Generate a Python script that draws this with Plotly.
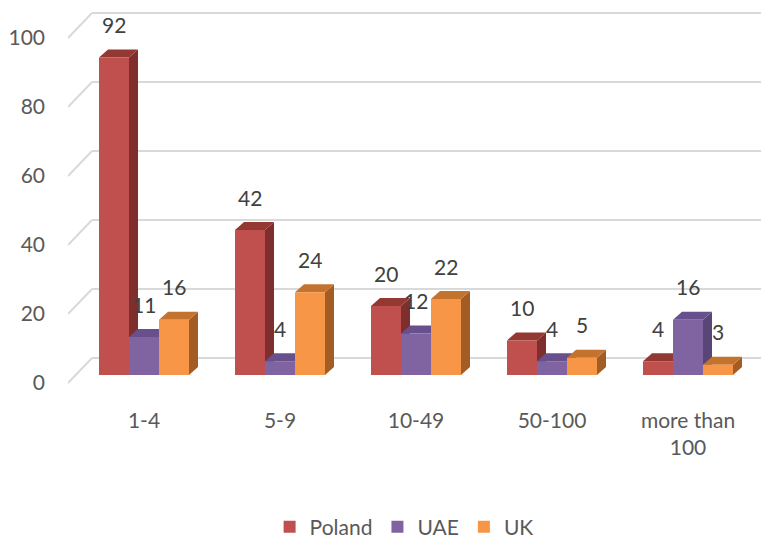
import plotly.graph_objects as go

categories = ["1-4", "5-9", "10-49", "50-100", "more than<br>100"]
series_names = ["Poland", "UAE", "UK"]
poland = [92, 42, 20, 10, 4]
uae = [11, 4, 12, 4, 16]
uk = [16, 24, 22, 5, 3]
y_ticks = [0, 20, 40, 60, 80, 100]

values = [poland, uae, uk]
front_colors = ["#C0504D", "#8064A2", "#F79646"]
side_colors = ["#7E2E2C", "#5A4578", "#A35D24"]
top_colors = ["#943834", "#68508C", "#C4732F"]

W, H = 761, 541
ML, MR, MT, MB = 68, 0, 5, 153
k = 3.45           # px per unit on y
gpx = 136.0        # px per category
x0_px = 144 - ML   # pixel of category 0 from plot left
x_range = [-x0_px / gpx, (W - ML - MR - x0_px) / gpx]
plot_h = H - MT - MB
base_px = 375 - MT
y_range = [-(plot_h - base_px) / k, base_px / k]

bw = 30 / gpx
dx = 9 / gpx
dy = 8 / k
wall_dx = 24 / gpx
wall_dy = 17 / k
front_dy = -8 / k

fig = go.Figure()
shapes = []
for t in y_ticks:
    shapes.append(dict(type="line", xref="x", yref="y", layer="below",
                       x0=x_range[0], y0=t + front_dy, x1=x_range[0] + wall_dx, y1=t + wall_dy,
                       line=dict(color="#D9D9D9", width=2)))
    shapes.append(dict(type="line", xref="x", yref="y", layer="below",
                       x0=x_range[0] + wall_dx, y0=t + wall_dy, x1=x_range[1], y1=t + wall_dy,
                       line=dict(color="#D9D9D9", width=2)))

annotations = []
for i in range(len(categories)):
    for j, vals in enumerate(values):
        v = vals[i]
        xc = i + (j - 1) * bw
        L, R = xc - bw / 2, xc + bw / 2
        side = f"M {R},0 L {R},{v} L {R+dx},{v+dy} L {R+dx},{dy} Z"
        top = f"M {L},{v} L {R},{v} L {R+dx},{v+dy} L {L+dx},{v+dy} Z"
        shapes.append(dict(type="path", xref="x", yref="y", layer="below", path=side,
                           fillcolor=side_colors[j], line=dict(width=0)))
        shapes.append(dict(type="path", xref="x", yref="y", layer="below", path=top,
                           fillcolor=top_colors[j], line=dict(width=0)))
        annotations.append(dict(x=xc, y=v, xref="x", yref="y", text=str(v), showarrow=False,
                                yshift=33, font=dict(size=21, color="#404040")))

for j, vals in enumerate(values):
    fig.add_trace(go.Bar(
        name=series_names[j],
        x=[i + (j - 1) * bw for i in range(len(categories))],
        y=vals,
        width=bw,
        marker=dict(color=front_colors[j], line=dict(width=0)),
    ))

fig.update_layout(
    width=W, height=H, autosize=False,
    margin=dict(l=ML, r=MR, t=MT, b=MB),
    paper_bgcolor="white", plot_bgcolor="white",
    font=dict(family="Lato", size=21, color="#595959"),
    barmode="overlay",
    shapes=shapes,
    annotations=annotations,
    showlegend=True,
    legend=dict(orientation="h", x=0.485, xanchor="center",
                yref="container", y=1 - 527 / H, yanchor="middle",
                font=dict(size=21, color="#595959")),
    xaxis=dict(range=x_range, tickvals=list(range(len(categories))), ticktext=categories,
               showgrid=False, zeroline=False, showline=False, ticks="",
               ticklabelstandoff=18, fixedrange=True),
    yaxis=dict(range=y_range, tickvals=y_ticks, showgrid=False, zeroline=False,
               showline=False, ticks="", ticklabelstandoff=22, ticklabelshift=8,
               fixedrange=True),
)

fig.write_html("out.html")
